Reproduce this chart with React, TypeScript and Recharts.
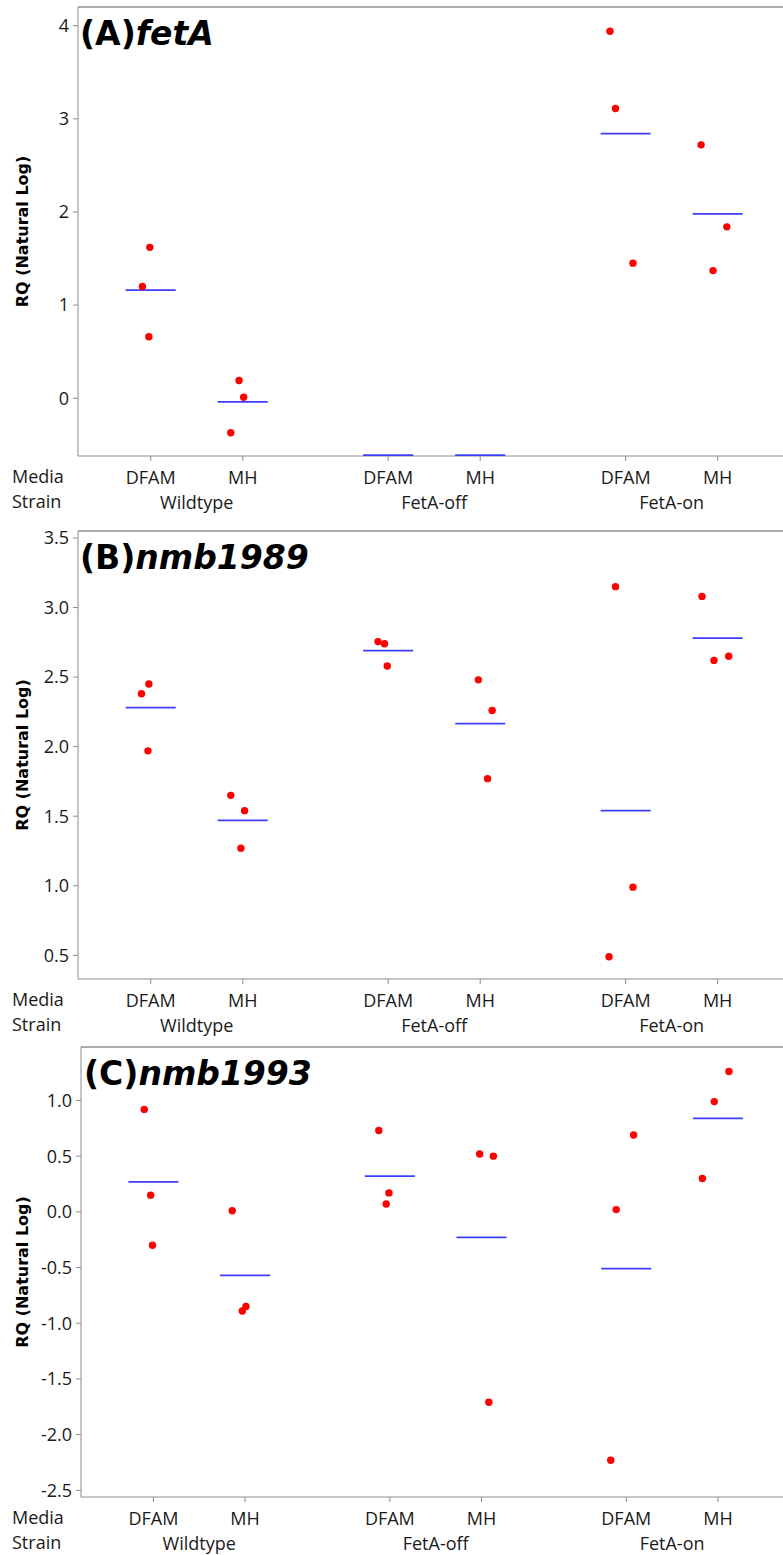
import { ReferenceLine, Scatter, ScatterChart, XAxis, YAxis } from 'recharts';

// x slots for the six Media x Strain groups (DFAM/MH within each strain)
const slotX = [1, 2, 3.58, 4.58, 6.16, 7.16];
const strainX = [1.5, 4.08, 6.66];
const xDomain: [number, number] = [0.21, 7.87];

const mediaLabels = ['DFAM', 'MH', 'DFAM', 'MH', 'DFAM', 'MH'];
const strainLabels = ['Wildtype', 'FetA-off', 'FetA-on'];

// (A) fetA
const fetAValues = [[1.62, 1.2, 0.66], [0.19, 0.01, -0.37], [], [], [3.94, 3.11, 1.45], [2.72, 1.84, 1.37]];
const fetAJitter = [[-0.01, -0.09, -0.02], [-0.04, 0.01, -0.13], [], [], [-0.17, -0.11, 0.08], [-0.18, 0.1, -0.05]];
const fetAMeans = [1.16, -0.04, -0.61, -0.61, 2.84, 1.98];
const fetATicks = [0, 1, 2, 3, 4];

// (B) nmb1989
const nmb1989Values = [[2.38, 2.45, 1.97], [1.65, 1.54, 1.27], [2.755, 2.74, 2.58], [2.48, 2.26, 1.77], [3.15, 0.99, 0.49], [3.08, 2.62, 2.65]];
const nmb1989Jitter = [[-0.1, -0.02, -0.03], [-0.13, 0.02, -0.02], [-0.11, -0.04, -0.01], [-0.02, 0.13, 0.08], [-0.11, 0.08, -0.18], [-0.17, -0.04, 0.12]];
const nmb1989Means = [2.28, 1.47, 2.69, 2.165, 1.54, 2.78];
const nmb1989Ticks = [0.5, 1.0, 1.5, 2.0, 2.5, 3.0, 3.5];

// (C) nmb1993
const nmb1993Values = [[0.92, 0.15, -0.3], [0.01, -0.89, -0.85], [0.73, 0.17, 0.07], [0.52, 0.5, -1.71], [0.69, 0.02, -2.23], [1.26, 0.99, 0.3]];
const nmb1993Jitter = [[-0.1, -0.03, -0.01], [-0.14, -0.03, 0.01], [-0.12, -0.01, -0.04], [-0.02, 0.13, 0.08], [0.08, -0.11, -0.17], [0.12, -0.04, -0.17]];
const nmb1993Means = [0.27, -0.57, 0.32, -0.23, -0.51, 0.84];
const nmb1993Ticks = [-2.5, -2.0, -1.5, -1.0, -0.5, 0.0, 0.5, 1.0];

const tickFont = { fontFamily: '"Open Sans", sans-serif', fontSize: 18, fill: '#1a1a1a' };
const axisGray = '#8c8c8c';

const Dot = (props: any) => <circle cx={props.cx} cy={props.cy} r={3.7} fill="#ff0000" />;
const MeanBar = (props: any) => (
  <line x1={props.cx - 25} x2={props.cx + 25} y1={props.cy} y2={props.cy} stroke="#3c3cff" strokeWidth={1.8} />
);

interface PanelProps {
  tag: string;
  gene: string;
  values: number[][];
  jitter: number[][];
  means: number[];
  ticks: number[];
  yDomain: [number, number];
  decimals: number;
  top: number;
  height: number;
  plotTop: number;
  yAxisWidth: number;
  titleX: number;
}

function Panel({ tag, gene, values, jitter, means, ticks, yDomain, decimals, top, height, plotTop, yAxisWidth, titleX }: PanelProps) {
  const points = values.flatMap((vals, g) => vals.map((v, i) => ({ x: slotX[g] + jitter[g][i], y: v })));
  const meanPoints = means.map((m, g) => ({ x: slotX[g], y: m }));
  const mediaH = 22;
  const strainH = 36;
  const plotBottom = height - mediaH - strainH;
  const midY = (plotTop + plotBottom) / 2;

  return (
    <div style={{ position: 'absolute', left: 0, top, width: 783, height }}>
      <ScatterChart width={783} height={height} margin={{ top: plotTop, right: 0, bottom: 0, left: 0 }}>
        <XAxis
          type="number"
          dataKey="x"
          domain={xDomain}
          allowDataOverflow
          ticks={slotX}
          interval={0}
          tickFormatter={(v) => mediaLabels[slotX.indexOf(v)] ?? ''}
          height={mediaH}
          tickSize={5}
          tickMargin={10}
          stroke={axisGray}
          tick={tickFont}
        />
        <XAxis
          xAxisId="strain"
          type="number"
          dataKey="x"
          domain={xDomain}
          allowDataOverflow
          ticks={strainX}
          interval={0}
          tickFormatter={(v) => strainLabels[strainX.indexOf(v)] ?? ''}
          height={strainH}
          axisLine={false}
          tickLine={false}
          tickSize={0}
          tickMargin={18}
          tick={tickFont}
        />
        <YAxis
          type="number"
          dataKey="y"
          domain={yDomain}
          allowDataOverflow
          ticks={ticks}
          interval={0}
          width={yAxisWidth}
          tickSize={5}
          tickMargin={4}
          stroke={axisGray}
          tick={tickFont}
          tickFormatter={(v) => Number(v).toFixed(decimals)}
        />
        <ReferenceLine y={yDomain[1]} stroke="#ababab" strokeWidth={2} />
        <Scatter data={meanPoints} shape={MeanBar} isAnimationActive={false} />
        <Scatter data={points} shape={Dot} isAnimationActive={false} />
      </ScatterChart>
      <svg width={783} height={height} style={{ position: 'absolute', left: 0, top: 0, pointerEvents: 'none' }}>
        <text x={titleX} y={plotTop + 38} fontFamily='"DejaVu Sans", sans-serif' fontWeight="bold" fontSize={33} fill="#000">
          <tspan>({tag})</tspan>
          <tspan fontStyle="italic">{gene}</tspan>
        </text>
        <text
          x={22}
          y={midY}
          transform={`rotate(-90, 22, ${midY})`}
          textAnchor="middle"
          dominantBaseline="central"
          fontFamily='"DejaVu Sans", sans-serif'
          fontWeight="bold"
          fontSize={16}
          fill="#000"
        >
          RQ (Natural Log)
        </text>
        <text x={12} y={plotBottom + 27} style={tickFont}>Media</text>
        <text x={12} y={plotBottom + 52} style={tickFont}>Strain</text>
      </svg>
    </div>
  );
}

export default function App() {
  return (
    <div style={{ position: 'relative', width: 783, height: 1555, background: '#fff' }}>
      <style>{'body{margin:0;}'}</style>
      <Panel
        tag="A" gene="fetA"
        values={fetAValues} jitter={fetAJitter} means={fetAMeans} ticks={fetATicks}
        yDomain={[-0.62, 4.2]} decimals={0}
        top={0} height={514} plotTop={7} yAxisWidth={78} titleX={80}
      />
      <Panel
        tag="B" gene="nmb1989"
        values={nmb1989Values} jitter={nmb1989Jitter} means={nmb1989Means} ticks={nmb1989Ticks}
        yDomain={[0.33, 3.55]} decimals={1}
        top={514} height={523} plotTop={17} yAxisWidth={78} titleX={80}
      />
      <Panel
        tag="C" gene="nmb1993"
        values={nmb1993Values} jitter={nmb1993Jitter} means={nmb1993Means} ticks={nmb1993Ticks}
        yDomain={[-2.56, 1.48]} decimals={1}
        top={1037} height={518} plotTop={10} yAxisWidth={81} titleX={84}
      />
    </div>
  );
}
